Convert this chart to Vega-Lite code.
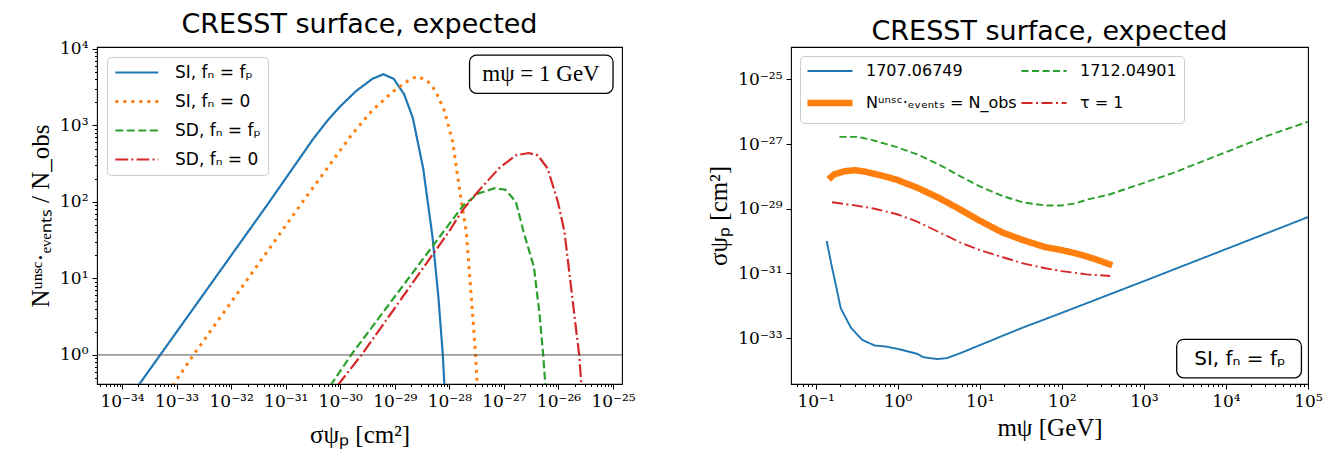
{
  "$schema": "https://vega.github.io/schema/vega-lite/v6.json",
  "background": "white",
  "padding": {"left": 28, "right": 5, "top": 10, "bottom": 4},
  "spacing": 70,
  "resolve": {
    "scale": {"color": "independent", "strokeDash": "independent"},
    "legend": {"color": "independent", "strokeDash": "independent"}
  },
  "config": {
    "font": "DejaVu Sans",
    "view": {"stroke": "black", "strokeWidth": 1.1},
    "axis": {
      "domain": false, "grid": false, "tickColor": "black", "tickWidth": 1,
      "labelFont": "DejaVu Serif", "labelFontSize": 17, "labelColor": "black",
      "labelOverlap": false, "labelBound": false, "labelFlush": false, "labelPadding": 4,
      "titleFont": "Liberation Serif", "titleFontSize": 25, "titleFontWeight": "normal", "titleColor": "black"
    },
    "legend": {"labelLimit": 400},
    "title": {"font": "DejaVu Sans", "fontSize": 27, "fontWeight": "normal", "color": "black", "anchor": "middle", "frame": "group", "baseline": "alphabetic", "offset": 1}
  },
  "hconcat": [
    {
      "width": 525, "height": 337,
      "title": "CRESST surface, expected",
      "layer": [
        {
          "data": {"values": [
            {"series": "SI, fₙ = fₚ", "sigma": 1.995e-34, "ratio": 0.398},
            {"series": "SI, fₙ = fₚ", "sigma": 5.012e-34, "ratio": 1},
            {"series": "SI, fₙ = fₚ", "sigma": 4.467e-32, "ratio": 89.1},
            {"series": "SI, fₙ = fₚ", "sigma": 3.162e-31, "ratio": 661},
            {"series": "SI, fₙ = fₚ", "sigma": 5.623e-31, "ratio": 1122},
            {"series": "SI, fₙ = fₚ", "sigma": 1.0e-30, "ratio": 1778},
            {"series": "SI, fₙ = fₚ", "sigma": 1.950e-30, "ratio": 2818},
            {"series": "SI, fₙ = fₚ", "sigma": 3.890e-30, "ratio": 4074},
            {"series": "SI, fₙ = fₚ", "sigma": 6.166e-30, "ratio": 4677},
            {"series": "SI, fₙ = fₚ", "sigma": 9.550e-30, "ratio": 4074},
            {"series": "SI, fₙ = fₚ", "sigma": 1.479e-29, "ratio": 2570},
            {"series": "SI, fₙ = fₚ", "sigma": 2.138e-29, "ratio": 1259},
            {"series": "SI, fₙ = fₚ", "sigma": 3.311e-29, "ratio": 275.4},
            {"series": "SI, fₙ = fₚ", "sigma": 4.898e-29, "ratio": 35.48},
            {"series": "SI, fₙ = fₚ", "sigma": 6.310e-29, "ratio": 5.623},
            {"series": "SI, fₙ = fₚ", "sigma": 7.586e-29, "ratio": 1},
            {"series": "SI, fₙ = fₚ", "sigma": 8.128e-29, "ratio": 0.398},
            {"series": "SI, fₙ = 0", "sigma": 8.511e-34, "ratio": 0.398},
            {"series": "SI, fₙ = 0", "sigma": 2.042e-33, "ratio": 1},
            {"series": "SI, fₙ = 0", "sigma": 2.042e-31, "ratio": 100},
            {"series": "SI, fₙ = 0", "sigma": 1.622e-30, "ratio": 758.6},
            {"series": "SI, fₙ = 0", "sigma": 3.890e-30, "ratio": 1585},
            {"series": "SI, fₙ = 0", "sigma": 9.550e-30, "ratio": 2818},
            {"series": "SI, fₙ = 0", "sigma": 1.950e-29, "ratio": 4074},
            {"series": "SI, fₙ = 0", "sigma": 2.692e-29, "ratio": 4365},
            {"series": "SI, fₙ = 0", "sigma": 3.981e-29, "ratio": 3802},
            {"series": "SI, fₙ = 0", "sigma": 5.623e-29, "ratio": 2818},
            {"series": "SI, fₙ = 0", "sigma": 8.128e-29, "ratio": 1549},
            {"series": "SI, fₙ = 0", "sigma": 1.148e-28, "ratio": 616.6},
            {"series": "SI, fₙ = 0", "sigma": 1.585e-28, "ratio": 125.9},
            {"series": "SI, fₙ = 0", "sigma": 2.042e-28, "ratio": 40.74},
            {"series": "SI, fₙ = 0", "sigma": 2.692e-28, "ratio": 3.162},
            {"series": "SI, fₙ = 0", "sigma": 3.020e-28, "ratio": 1},
            {"series": "SI, fₙ = 0", "sigma": 3.236e-28, "ratio": 0.398},
            {"series": "SD, fₙ = fₚ", "sigma": 6.607e-31, "ratio": 0.398},
            {"series": "SD, fₙ = fₚ", "sigma": 1.585e-30, "ratio": 1},
            {"series": "SD, fₙ = fₚ", "sigma": 7.762e-29, "ratio": 40.74},
            {"series": "SD, fₙ = fₚ", "sigma": 1.778e-28, "ratio": 89.13},
            {"series": "SD, fₙ = fₚ", "sigma": 3.388e-28, "ratio": 128.8},
            {"series": "SD, fₙ = fₚ", "sigma": 6.761e-28, "ratio": 151.4},
            {"series": "SD, fₙ = fₚ", "sigma": 1.072e-27, "ratio": 144.5},
            {"series": "SD, fₙ = fₚ", "sigma": 1.660e-27, "ratio": 100},
            {"series": "SD, fₙ = fₚ", "sigma": 2.291e-27, "ratio": 40.74},
            {"series": "SD, fₙ = fₚ", "sigma": 3.548e-27, "ratio": 14.13},
            {"series": "SD, fₙ = fₚ", "sigma": 4.467e-27, "ratio": 3.548},
            {"series": "SD, fₙ = fₚ", "sigma": 5.248e-27, "ratio": 1},
            {"series": "SD, fₙ = fₚ", "sigma": 5.754e-27, "ratio": 0.398},
            {"series": "SD, fₙ = 0", "sigma": 8.913e-31, "ratio": 0.398},
            {"series": "SD, fₙ = 0", "sigma": 2.455e-30, "ratio": 1},
            {"series": "SD, fₙ = 0", "sigma": 9.772e-29, "ratio": 40.74},
            {"series": "SD, fₙ = 0", "sigma": 1.778e-28, "ratio": 79.43},
            {"series": "SD, fₙ = 0", "sigma": 3.388e-28, "ratio": 138.0},
            {"series": "SD, fₙ = 0", "sigma": 8.128e-28, "ratio": 275.4},
            {"series": "SD, fₙ = 0", "sigma": 1.660e-27, "ratio": 407.4},
            {"series": "SD, fₙ = 0", "sigma": 2.818e-27, "ratio": 436.5},
            {"series": "SD, fₙ = 0", "sigma": 4.169e-27, "ratio": 407.4},
            {"series": "SD, fₙ = 0", "sigma": 6.310e-27, "ratio": 275.4},
            {"series": "SD, fₙ = 0", "sigma": 9.772e-27, "ratio": 100},
            {"series": "SD, fₙ = 0", "sigma": 1.288e-26, "ratio": 40.74},
            {"series": "SD, fₙ = 0", "sigma": 1.660e-26, "ratio": 8.913},
            {"series": "SD, fₙ = 0", "sigma": 2.089e-26, "ratio": 2.239},
            {"series": "SD, fₙ = 0", "sigma": 2.399e-26, "ratio": 1},
            {"series": "SD, fₙ = 0", "sigma": 2.630e-26, "ratio": 0.398}
          ]},
          "mark": {"type": "line", "clip": true},
          "encoding": {
            "x": {"field": "sigma", "type": "quantitative",
              "scale": {"type": "log", "domain": [3.48e-35, 1.46e-25], "nice": false},
              "axis": {
                "title": "σψₚ  [cm²]", "titlePadding": 13,
                "values": [4e-35,5e-35,6e-35,7e-35,8e-35,9e-35,1e-34,2e-34,3e-34,4e-34,5e-34,6e-34,7e-34,8e-34,9e-34,1e-33,2e-33,3e-33,4e-33,5e-33,6e-33,7e-33,8e-33,9e-33,1e-32,2e-32,3e-32,4e-32,5e-32,6e-32,7e-32,8e-32,9e-32,1e-31,2e-31,3e-31,4e-31,5e-31,6e-31,7e-31,8e-31,9e-31,1e-30,2e-30,3e-30,4e-30,5e-30,6e-30,7e-30,8e-30,9e-30,1e-29,2e-29,3e-29,4e-29,5e-29,6e-29,7e-29,8e-29,9e-29,1e-28,2e-28,3e-28,4e-28,5e-28,6e-28,7e-28,8e-28,9e-28,1e-27,2e-27,3e-27,4e-27,5e-27,6e-27,7e-27,8e-27,9e-27,1e-26,2e-26,3e-26,4e-26,5e-26,6e-26,7e-26,8e-26,9e-26,1e-25],
                "tickSize": {"condition": {"test": "abs(log(datum.value)/LN10 - round(log(datum.value)/LN10)) < 0.01", "value": 5}, "value": 2.5},
                "labelExpr": "abs(log(datum.value)/LN10 - round(log(datum.value)/LN10)) < 0.01 ? '10' + replace(replace(replace(replace(replace(replace(replace(replace(replace(replace(replace('' + round(log(datum.value)/LN10), '-', '⁻'), regexp('0','g'), '⁰'), regexp('1','g'), '¹'), regexp('2','g'), '²'), regexp('3','g'), '³'), regexp('4','g'), '⁴'), regexp('5','g'), '⁵'), regexp('6','g'), '⁶'), regexp('7','g'), '⁷'), regexp('8','g'), '⁸'), regexp('9','g'), '⁹') : ''"
              }},
            "y": {"field": "ratio", "type": "quantitative",
              "scale": {"type": "log", "domain": [0.417, 10617], "nice": false},
              "axis": {
                "title": "Nᵘⁿˢᶜ·ₑᵥₑₙₜₛ / N_obs", "titlePadding": 6,
                "values": [0.5,0.6,0.7,0.8,0.9,1,2,3,4,5,6,7,8,9,10,20,30,40,50,60,70,80,90,100,200,300,400,500,600,700,800,900,1000,2000,3000,4000,5000,6000,7000,8000,9000,10000],
                "tickSize": {"condition": {"test": "abs(log(datum.value)/LN10 - round(log(datum.value)/LN10)) < 0.01", "value": 5}, "value": 2.5},
                "labelExpr": "abs(log(datum.value)/LN10 - round(log(datum.value)/LN10)) < 0.01 ? '10' + replace(replace(replace(replace(replace(replace(replace(replace(replace(replace(replace('' + round(log(datum.value)/LN10), '-', '⁻'), regexp('0','g'), '⁰'), regexp('1','g'), '¹'), regexp('2','g'), '²'), regexp('3','g'), '³'), regexp('4','g'), '⁴'), regexp('5','g'), '⁵'), regexp('6','g'), '⁶'), regexp('7','g'), '⁷'), regexp('8','g'), '⁸'), regexp('9','g'), '⁹') : ''"
              }},
            "color": {"field": "series", "type": "nominal",
              "scale": {"domain": ["SI, fₙ = fₚ", "SI, fₙ = 0", "SD, fₙ = fₚ", "SD, fₙ = 0"], "range": ["#1f77b4", "#ff7f0e", "#2ca02c", "#d62728"]},
              "legend": {"title": null, "orient": "top-left", "offset": 10, "padding": 7, "strokeColor": "#cccccc", "fillColor": "white", "cornerRadius": 4,
                "labelFont": "DejaVu Sans", "labelFontSize": 17, "labelColor": "black", "symbolType": "M-1,0H5", "symbolSize": 205, "labelOffset": 44, "rowPadding": 11,
                "encode": {"symbols": {"update": {"strokeWidth": {"signal": "datum.value === 'SI, fₙ = 0' ? 3 : 2.2"}}}}}},
            "strokeDash": {"field": "series", "type": "nominal",
              "scale": {"domain": ["SI, fₙ = fₚ", "SI, fₙ = 0", "SD, fₙ = fₚ", "SD, fₙ = 0"], "range": [[1, 0], [3, 5], [8, 3.5], [12.8, 3.2, 2, 3.2]]}},
            "strokeWidth": {"condition": {"test": "datum.series === 'SI, fₙ = 0'", "value": 3}, "value": 2.2}
          }
        },
        {
          "data": {"values": [{}]},
          "mark": {"type": "rule", "color": "#555555", "strokeWidth": 1},
          "encoding": {"y": {"datum": 1}}
        },
        {
          "data": {"values": [{"label": "mψ = 1 GeV"}]},
          "mark": {"type": "rect", "cornerRadius": 7, "fill": "white", "stroke": "black", "strokeWidth": 1.3},
          "encoding": {"x": {"datum": 2.344e-28}, "x2": {"datum": 1e-25}, "y": {"datum": 2630}, "y2": {"datum": 8318}}
        },
        {
          "data": {"values": [{"label": "mψ = 1 GeV"}]},
          "mark": {"type": "text", "font": "Liberation Serif", "fontSize": 23, "color": "black", "align": "center", "baseline": "middle"},
          "encoding": {"x": {"datum": 4.786e-27}, "y": {"datum": 4677}, "text": {"field": "label"}}
        }
      ]
    },
    {
      "width": 517, "height": 337,
      "title": "CRESST surface, expected",
      "layer": [
        {
          "data": {"values": [
            {"series": "1707.06749", "mass": 0.1365, "sigma": 1e-30},
            {"series": "1707.06749", "mass": 0.1585, "sigma": 1.514e-31},
            {"series": "1707.06749", "mass": 0.1778, "sigma": 3.981e-32},
            {"series": "1707.06749", "mass": 0.2018, "sigma": 8.511e-33},
            {"series": "1707.06749", "mass": 0.2692, "sigma": 2.089e-33},
            {"series": "1707.06749", "mass": 0.3715, "sigma": 8.710e-34},
            {"series": "1707.06749", "mass": 0.5248, "sigma": 5.888e-34},
            {"series": "1707.06749", "mass": 0.7079, "sigma": 5.495e-34},
            {"series": "1707.06749", "mass": 1.072, "sigma": 4.467e-34},
            {"series": "1707.06749", "mass": 1.738, "sigma": 3.236e-34},
            {"series": "1707.06749", "mass": 2.042, "sigma": 2.570e-34},
            {"series": "1707.06749", "mass": 3.020, "sigma": 2.239e-34},
            {"series": "1707.06749", "mass": 3.981, "sigma": 2.399e-34},
            {"series": "1707.06749", "mass": 5.888, "sigma": 3.467e-34},
            {"series": "1707.06749", "mass": 10, "sigma": 6.026e-34},
            {"series": "1707.06749", "mass": 31.62, "sigma": 1.995e-33},
            {"series": "1707.06749", "mass": 100, "sigma": 6.026e-33},
            {"series": "1707.06749", "mass": 1000, "sigma": 5.754e-32},
            {"series": "1707.06749", "mass": 10000, "sigma": 5.623e-31},
            {"series": "1707.06749", "mass": 100000, "sigma": 5.495e-30},
            {"series": "1712.04901", "mass": 0.1954, "sigma": 1.660e-27},
            {"series": "1712.04901", "mass": 0.3236, "sigma": 1.660e-27},
            {"series": "1712.04901", "mass": 0.4634, "sigma": 1.380e-27},
            {"series": "1712.04901", "mass": 0.7482, "sigma": 9.772e-28},
            {"series": "1712.04901", "mass": 1.009, "sigma": 7.762e-28},
            {"series": "1712.04901", "mass": 1.730, "sigma": 4.786e-28},
            {"series": "1712.04901", "mass": 3.148, "sigma": 2.344e-28},
            {"series": "1712.04901", "mass": 5.741, "sigma": 1.023e-28},
            {"series": "1712.04901", "mass": 9.840, "sigma": 5.012e-29},
            {"series": "1712.04901", "mass": 19.01, "sigma": 2.455e-29},
            {"series": "1712.04901", "mass": 34.59, "sigma": 1.549e-29},
            {"series": "1712.04901", "mass": 63.10, "sigma": 1.259e-29},
            {"series": "1712.04901", "mass": 100, "sigma": 1.259e-29},
            {"series": "1712.04901", "mass": 144.5, "sigma": 1.445e-29},
            {"series": "1712.04901", "mass": 208.9, "sigma": 1.950e-29},
            {"series": "1712.04901", "mass": 380.2, "sigma": 2.754e-29},
            {"series": "1712.04901", "mass": 1000, "sigma": 6.310e-29},
            {"series": "1712.04901", "mass": 2291, "sigma": 1.288e-28},
            {"series": "1712.04901", "mass": 10000, "sigma": 5.623e-28},
            {"series": "1712.04901", "mass": 31623, "sigma": 1.778e-27},
            {"series": "1712.04901", "mass": 100000, "sigma": 4.898e-27},
            {"series": "Nᵘⁿˢᶜ·ₑᵥₑₙₜₛ = N_obs", "mass": 0.1445, "sigma": 8.128e-29},
            {"series": "Nᵘⁿˢᶜ·ₑᵥₑₙₜₛ = N_obs", "mass": 0.1675, "sigma": 1.148e-28},
            {"series": "Nᵘⁿˢᶜ·ₑᵥₑₙₜₛ = N_obs", "mass": 0.2259, "sigma": 1.445e-28},
            {"series": "Nᵘⁿˢᶜ·ₑᵥₑₙₜₛ = N_obs", "mass": 0.3048, "sigma": 1.549e-28},
            {"series": "Nᵘⁿˢᶜ·ₑᵥₑₙₜₛ = N_obs", "mass": 0.4111, "sigma": 1.380e-28},
            {"series": "Nᵘⁿˢᶜ·ₑᵥₑₙₜₛ = N_obs", "mass": 0.7482, "sigma": 9.550e-29},
            {"series": "Nᵘⁿˢᶜ·ₑᵥₑₙₜₛ = N_obs", "mass": 1.009, "sigma": 7.586e-29},
            {"series": "Nᵘⁿˢᶜ·ₑᵥₑₙₜₛ = N_obs", "mass": 1.730, "sigma": 4.467e-29},
            {"series": "Nᵘⁿˢᶜ·ₑᵥₑₙₜₛ = N_obs", "mass": 3.148, "sigma": 2.188e-29},
            {"series": "Nᵘⁿˢᶜ·ₑᵥₑₙₜₛ = N_obs", "mass": 5.741, "sigma": 9.550e-30},
            {"series": "Nᵘⁿˢᶜ·ₑᵥₑₙₜₛ = N_obs", "mass": 9.840, "sigma": 4.365e-30},
            {"series": "Nᵘⁿˢᶜ·ₑᵥₑₙₜₛ = N_obs", "mass": 19.01, "sigma": 1.820e-30},
            {"series": "Nᵘⁿˢᶜ·ₑᵥₑₙₜₛ = N_obs", "mass": 34.59, "sigma": 1.047e-30},
            {"series": "Nᵘⁿˢᶜ·ₑᵥₑₙₜₛ = N_obs", "mass": 63.10, "sigma": 6.457e-31},
            {"series": "Nᵘⁿˢᶜ·ₑᵥₑₙₜₛ = N_obs", "mass": 100, "sigma": 5.248e-31},
            {"series": "Nᵘⁿˢᶜ·ₑᵥₑₙₜₛ = N_obs", "mass": 164.1, "sigma": 3.890e-31},
            {"series": "Nᵘⁿˢᶜ·ₑᵥₑₙₜₛ = N_obs", "mass": 263.0, "sigma": 2.692e-31},
            {"series": "Nᵘⁿˢᶜ·ₑᵥₑₙₜₛ = N_obs", "mass": 412.1, "sigma": 1.778e-31},
            {"series": "τ = 1", "mass": 0.1585, "sigma": 1.585e-29},
            {"series": "τ = 1", "mass": 0.2884, "sigma": 1.288e-29},
            {"series": "τ = 1", "mass": 0.5248, "sigma": 1e-29},
            {"series": "τ = 1", "mass": 1.009, "sigma": 6.607e-30},
            {"series": "τ = 1", "mass": 1.730, "sigma": 3.981e-30},
            {"series": "τ = 1", "mass": 3.162, "sigma": 1.905e-30},
            {"series": "τ = 1", "mass": 5.754, "sigma": 9.120e-31},
            {"series": "τ = 1", "mass": 10, "sigma": 5.248e-31},
            {"series": "τ = 1", "mass": 19.05, "sigma": 3.162e-31},
            {"series": "τ = 1", "mass": 34.67, "sigma": 1.995e-31},
            {"series": "τ = 1", "mass": 63.10, "sigma": 1.445e-31},
            {"series": "τ = 1", "mass": 100, "sigma": 1.175e-31},
            {"series": "τ = 1", "mass": 199.5, "sigma": 9.333e-32},
            {"series": "τ = 1", "mass": 389.0, "sigma": 8.318e-32}
          ]},
          "mark": {"type": "line", "clip": true},
          "encoding": {
            "x": {"field": "mass", "type": "quantitative",
              "scale": {"type": "log", "domain": [0.05012, 100000], "nice": false},
              "axis": {
                "title": "mψ  [GeV]", "titlePadding": 6,
                "values": [0.06,0.07,0.08,0.09,0.1,0.2,0.3,0.4,0.5,0.6,0.7,0.8,0.9,1,2,3,4,5,6,7,8,9,10,20,30,40,50,60,70,80,90,100,200,300,400,500,600,700,800,900,1000,2000,3000,4000,5000,6000,7000,8000,9000,10000,20000,30000,40000,50000,60000,70000,80000,90000,100000],
                "tickSize": {"condition": {"test": "abs(log(datum.value)/LN10 - round(log(datum.value)/LN10)) < 0.01", "value": 5}, "value": 2.5},
                "labelExpr": "abs(log(datum.value)/LN10 - round(log(datum.value)/LN10)) < 0.01 ? '10' + replace(replace(replace(replace(replace(replace(replace(replace(replace(replace(replace('' + round(log(datum.value)/LN10), '-', '⁻'), regexp('0','g'), '⁰'), regexp('1','g'), '¹'), regexp('2','g'), '²'), regexp('3','g'), '³'), regexp('4','g'), '⁴'), regexp('5','g'), '⁵'), regexp('6','g'), '⁶'), regexp('7','g'), '⁷'), regexp('8','g'), '⁸'), regexp('9','g'), '⁹') : ''"
              }},
            "y": {"field": "sigma", "type": "quantitative",
              "scale": {"type": "log", "domain": [3.8e-35, 1e-24], "nice": false},
              "axis": {
                "title": "σψₚ  [cm²]", "titlePadding": 6,
                "values": [1e-33, 1e-31, 1e-29, 1e-27, 1e-25],
                "tickSize": 5,
                "labelExpr": "'10' + replace(replace(replace(replace(replace(replace(replace(replace(replace(replace(replace('' + round(log(datum.value)/LN10), '-', '⁻'), regexp('0','g'), '⁰'), regexp('1','g'), '¹'), regexp('2','g'), '²'), regexp('3','g'), '³'), regexp('4','g'), '⁴'), regexp('5','g'), '⁵'), regexp('6','g'), '⁶'), regexp('7','g'), '⁷'), regexp('8','g'), '⁸'), regexp('9','g'), '⁹')"
              }},
            "color": {"field": "series", "type": "nominal",
              "scale": {"domain": ["1707.06749", "Nᵘⁿˢᶜ·ₑᵥₑₙₜₛ = N_obs", "1712.04901", "τ = 1"], "range": ["#1f77b4", "#ff7f0e", "#2ca02c", "#d62728"]},
              "legend": {"title": null, "orient": "top-left", "offset": 9, "padding": 7, "columns": 2, "columnPadding": 0, "strokeColor": "#cccccc", "fillColor": "white", "cornerRadius": 4,
                "labelFont": "DejaVu Sans", "labelFontSize": 16, "labelColor": "black", "symbolType": "M-1,0H5", "symbolSize": 225, "labelOffset": 43, "rowPadding": 11,
                "encode": {"symbols": {"update": {"strokeWidth": {"signal": "datum.value === 'Nᵘⁿˢᶜ·ₑᵥₑₙₜₛ = N_obs' ? 6.5 : 1.9"}}}}}},
            "strokeDash": {"field": "series", "type": "nominal",
              "scale": {"domain": ["1707.06749", "Nᵘⁿˢᶜ·ₑᵥₑₙₜₛ = N_obs", "1712.04901", "τ = 1"], "range": [[1, 0], [1, 0], [7, 3.5], [11, 3.5, 2, 3.5]]}},
            "strokeWidth": {"condition": {"test": "datum.series === 'Nᵘⁿˢᶜ·ₑᵥₑₙₜₛ = N_obs'", "value": 6.5}, "value": 1.9}
          }
        },
        {
          "data": {"values": [{"label": "SI, fₙ = fₚ"}]},
          "mark": {"type": "rect", "cornerRadius": 7, "fill": "white", "stroke": "black", "strokeWidth": 1.3},
          "encoding": {"x": {"datum": 2512}, "x2": {"datum": 83176}, "y": {"datum": 9.12e-34}, "y2": {"datum": 5.888e-35}}
        },
        {
          "data": {"values": [{"label": "SI, fₙ = fₚ"}]},
          "mark": {"type": "text", "font": "DejaVu Sans", "fontSize": 20, "color": "black", "align": "center", "baseline": "middle"},
          "encoding": {"x": {"datum": 14791}, "y": {"datum": 2.239e-34}, "text": {"field": "label"}}
        }
      ]
    }
  ]
}
